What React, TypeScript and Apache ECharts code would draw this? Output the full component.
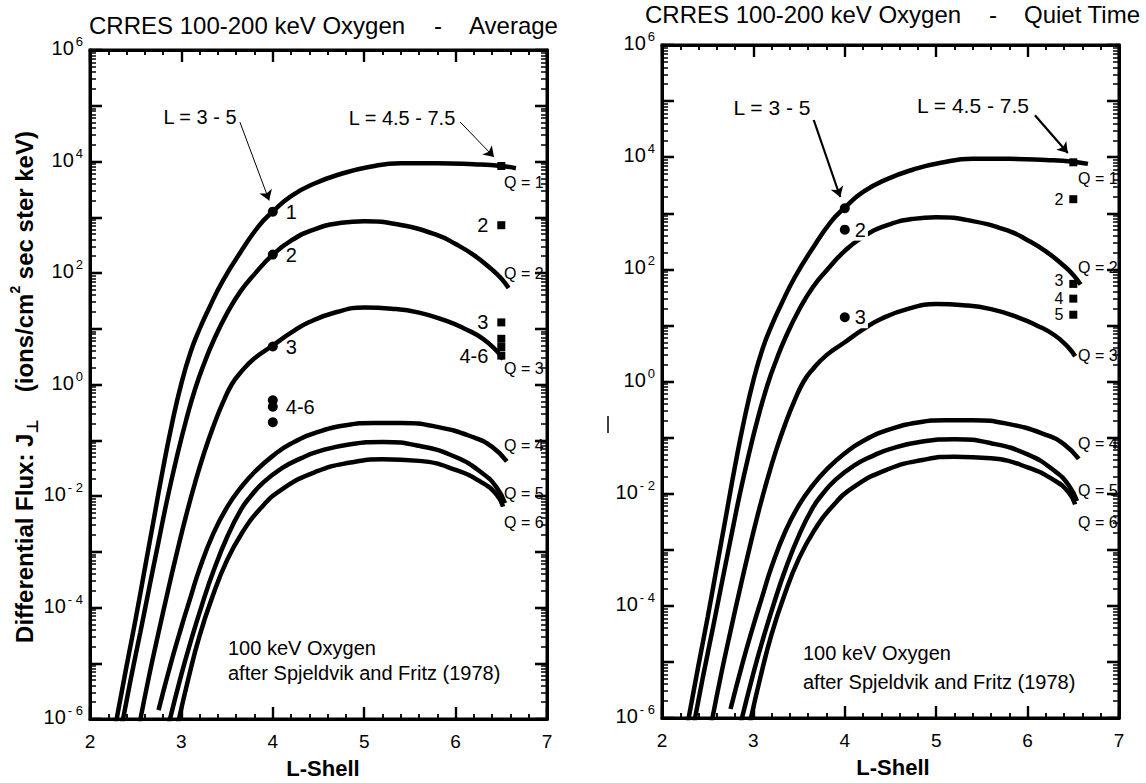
import { useEffect, useRef } from 'react';
import * as echarts from 'echarts';

const FONT = '"Liberation Sans", Arial, Helvetica, sans-serif';

// ---- Axes ----
const L_TICKS = [2, 3, 4, 5, 6, 7];
const DECADES = [-6, -5, -4, -3, -2, -1, 0, 1, 2, 3, 4, 5, 6];

// ---- Model curves after Spjeldvik and Fritz (1978): [L-shell, log10 flux] ----
const curveQ1 = [[2.28, -6.1], [2.4, -5.05], [2.5, -4.2], [2.6, -3.3], [2.7, -2.4], [2.8, -1.5], [2.9, -0.68], [3.0, 0.02], [3.1, 0.58], [3.2, 1.0], [3.3, 1.36], [3.45, 1.85], [3.65, 2.38], [3.85, 2.85], [4.0, 3.1], [4.2, 3.38], [4.45, 3.6], [4.75, 3.78], [5.05, 3.9], [5.4, 3.97], [5.8, 3.97], [6.2, 3.95], [6.5, 3.92], [6.66, 3.88]];
const curveQ2 = [[2.35, -6.1], [2.45, -5.25], [2.55, -4.45], [2.65, -3.63], [2.75, -2.82], [2.85, -2.02], [2.95, -1.3], [3.05, -0.65], [3.15, -0.08], [3.25, 0.38], [3.35, 0.78], [3.5, 1.28], [3.65, 1.68], [3.8, 1.98], [4.0, 2.33], [4.2, 2.58], [4.45, 2.78], [4.75, 2.9], [5.0, 2.93], [5.4, 2.86], [5.8, 2.68], [6.0, 2.52], [6.2, 2.32], [6.4, 2.06], [6.5, 1.9], [6.58, 1.73]];
const curveQ3 = [[2.54, -6.1], [2.65, -5.2], [2.75, -4.45], [2.85, -3.72], [2.95, -3.02], [3.05, -2.36], [3.15, -1.76], [3.25, -1.22], [3.35, -0.75], [3.45, -0.34], [3.55, 0.0], [3.65, 0.22], [3.8, 0.47], [4.0, 0.7], [4.2, 0.93], [4.4, 1.12], [4.7, 1.3], [5.0, 1.38], [5.3, 1.36], [5.6, 1.29], [5.9, 1.14], [6.1, 1.0], [6.3, 0.82], [6.45, 0.6], [6.52, 0.45]];
const curveQ4 = [[2.75, -5.84], [2.875, -5.06], [3.0, -4.35], [3.09, -3.87], [3.2, -3.3], [3.35, -2.67], [3.5, -2.2], [3.65, -1.85], [3.8, -1.57], [4.0, -1.28], [4.2, -1.06], [4.48, -0.86], [4.8, -0.73], [5.1, -0.69], [5.4, -0.69], [5.8, -0.76], [6.2, -0.95], [6.4, -1.12], [6.56, -1.38]];
const curveQ5 = [[2.86, -6.1], [3.0, -5.2], [3.1, -4.62], [3.22, -3.98], [3.35, -3.35], [3.51, -2.7], [3.65, -2.25], [3.75, -2.02], [3.9, -1.75], [4.1, -1.5], [4.3, -1.33], [4.5, -1.2], [4.85, -1.07], [5.2, -1.03], [5.6, -1.1], [6.0, -1.3], [6.3, -1.6], [6.45, -1.85], [6.54, -2.13]];
const curveQ6 = [[2.96, -6.1], [3.08, -5.25], [3.2, -4.5], [3.33, -3.85], [3.5, -3.15], [3.68, -2.62], [3.85, -2.25], [4.1, -1.88], [4.48, -1.56], [4.85, -1.4], [5.2, -1.34], [5.6, -1.37], [6.0, -1.53], [6.3, -1.77], [6.45, -1.98], [6.52, -2.19]];
const curves = [curveQ1, curveQ2, curveQ3, curveQ4, curveQ5, curveQ6];
const curveNames = ['Q = 1', 'Q = 2', 'Q = 3', 'Q = 4', 'Q = 5', 'Q = 6'];

// ---- CRRES measurements: [L-shell, flux] ----
const avgCircles = [[4, 1260], [4, 214], [4, 4.8], [4, 0.52], [4, 0.4], [4, 0.21]];
const avgCircleLabels = ['1', '2', '3', '', '4-6', ''];
const avgSquares = [[6.5, 8300], [6.5, 720], [6.5, 13], [6.5, 6.6], [6.5, 4.7], [6.5, 3.3]];
const avgSquareLabels = ['', '2', '3', '', '', '4-6'];
const quietCircles = [[4, 1230], [4, 510], [4, 14]];
const quietCircleLabels = ['', '2', '3'];
const quietSquares = [[6.5, 8100], [6.5, 1780], [6.5, 55], [6.5, 30], [6.5, 15.5]];
const quietSquareLabels = ['', '2', '3', '4', '5'];

// ---- Annotation arrows: [from, to] in [L-shell, flux] ----
const avgArrows = [[[3.64, 5.1e4], [3.96, 2.0e3]], [[6.05, 5.1e4], [6.42, 1.2e4]]];
const quietArrows = [[[3.66, 4.6e4], [3.95, 1.95e3]], [[6.08, 5.6e4], [6.44, 1.19e4]]];

// ---- Layout (pixels) ----
const panels = [
  {
    grid: { left: 90, top: 50, width: 457, height: 669 },
    circles: avgCircles, circleLabels: avgCircleLabels,
    squares: avgSquares, squareLabels: avgSquareLabels,
    arrows: avgArrows, arrowWidth: 1, labelBg: false, squareFont: 20,
  },
  {
    grid: { left: 662, top: 45, width: 457, height: 673 },
    circles: quietCircles, circleLabels: quietCircleLabels,
    squares: quietSquares, squareLabels: quietSquareLabels,
    arrows: quietArrows, arrowWidth: 2.2, labelBg: true, squareFont: 16,
  },
];

const minorLogTicks: number[] = [];
for (let e = -6; e < 6; e++) for (let m = 2; m <= 9; m++) minorLogTicks.push(m * Math.pow(10, e));
const stepLTicks: number[] = [];
for (let k = 0; k <= 25; k++) stepLTicks.push(2 + k * 0.2);

function txt(x: number, y: number, text: string, fontSize: number, extra: any = {}) {
  const align = extra.align || 'left';
  return {
    type: 'text', x, y, silent: true, rotation: extra.rotation || 0, z: 100,
    style: {
      text, fill: '#000', fontSize, fontFamily: FONT, fontWeight: extra.bold ? 'bold' : 'normal',
      align, textAlign: align, verticalAlign: 'middle', textVerticalAlign: 'middle',
      rich: extra.rich,
    },
  };
}

function seg(x1: number, y1: number, x2: number, y2: number, w: number) {
  return { type: 'line', silent: true, z: 100, shape: { x1, y1, x2, y2 }, style: { stroke: '#000', lineWidth: w } };
}

function baseGraphic(): any[] {
  const g: any[] = [
    txt(89, 25, 'CRRES 100-200 keV Oxygen', 24),
    txt(438, 25, '-', 24, { align: 'center' }),
    txt(469, 25, 'Average', 24),
    txt(645, 14, 'CRRES 100-200 keV Oxygen', 24),
    txt(993, 14, '-', 24, { align: 'center' }),
    txt(1024, 14, 'Quiet Time', 24),
    txt(24, 387, '{t|Differential Flux: J}{sub|⊥}{t|    (ions/cm}{sup|2}{t| sec ster keV)}', 24, {
      align: 'center', rotation: Math.PI / 2, bold: true,
      rich: {
        t: { fontSize: 24, fontWeight: 'bold', fontFamily: FONT, lineHeight: 32, color: '#000' },
        sub: { fontSize: 16, fontWeight: 'bold', fontFamily: 'DejaVu Sans', verticalAlign: 'bottom', lineHeight: 17, color: '#000' },
        sup: { fontSize: 14, fontWeight: 'bold', fontFamily: FONT, verticalAlign: 'top', lineHeight: 15, color: '#000' },
      },
    }),
    txt(323, 768, 'L-Shell', 22, { align: 'center', bold: true }),
    txt(893, 767, 'L-Shell', 22, { align: 'center', bold: true }),
    txt(200, 117, 'L = 3 - 5', 20, { align: 'center' }),
    txt(402, 118, 'L = 4.5 - 7.5', 20, { align: 'center' }),
    txt(772, 107, 'L = 3 - 5', 21, { align: 'center' }),
    txt(973, 105, 'L = 4.5 - 7.5', 21, { align: 'center' }),
    txt(228, 648, '100 keV Oxygen', 20),
    txt(228, 673, 'after Spjeldvik and Fritz (1978)', 20),
    txt(803, 653, '100 keV Oxygen', 20),
    txt(803, 682, 'after Spjeldvik and Fritz (1978)', 20),
    seg(608, 416, 608, 433, 1.5),
  ];
  const qLeftY = [182, 273, 368, 445, 493, 522];
  const qRightY = [178, 267, 355, 443, 490, 522];
  curveNames.forEach((n, k) => {
    g.push(txt(504, qLeftY[k], n, 16));
    g.push(txt(1078, qRightY[k], n, 16));
  });
  return g;
}

function buildOption() {
  const grids: any[] = [];
  const xAxes: any[] = [];
  const yAxes: any[] = [];
  const series: any[] = [];
  const mkLine = () => ({ show: true, onZero: false, lineStyle: { color: '#000', width: 3 } });
  const mkTick = () => ({ show: true, inside: true, length: 12, lineStyle: { color: '#000', width: 2.2 } });
  const mkMinor = () => ({ show: true, splitNumber: 5, length: 5, lineStyle: { color: '#000', width: 1.5 } });

  panels.forEach((p, i) => {
    grids.push({ ...p.grid, containLabel: false, show: false });
    const xb = xAxes.length;
    xAxes.push({
      gridIndex: i, type: 'value', min: L_TICKS[0], max: L_TICKS[L_TICKS.length - 1], interval: 1,
      position: 'bottom', axisLine: mkLine(), axisTick: mkTick(), minorTick: mkMinor(), splitLine: { show: false },
      axisLabel: { show: true, color: '#000', fontSize: 19, fontFamily: FONT, margin: 13 },
    });
    xAxes.push({
      gridIndex: i, type: 'value', min: L_TICKS[0], max: L_TICKS[L_TICKS.length - 1], interval: 1,
      position: 'top', axisLine: mkLine(), axisTick: mkTick(), minorTick: mkMinor(), splitLine: { show: false },
      axisLabel: { show: false },
    });

    const yb = yAxes.length;
    yAxes.push({ gridIndex: i, type: 'log', logBase: 10, min: 1e-6, max: 1e6, show: false });
    yAxes.push({
      gridIndex: i, type: 'value', min: DECADES[0], max: DECADES[DECADES.length - 1], interval: 1,
      position: 'left', axisLine: mkLine(), axisTick: mkTick(), splitLine: { show: false },
      axisLabel: {
        show: true, showMinLabel: true, showMaxLabel: true, margin: 7, color: '#000',
        formatter: (v: number) => (Math.round(v) % 2 === 0 ? `{b|10}{s|${v < 0 ? '- ' + (-v) : v}}` : ''),
        rich: {
          b: { fontSize: 20, lineHeight: 30, fontFamily: FONT, color: '#000', padding: [0, 0, 4, 0] },
          s: { fontSize: 13, lineHeight: 14, verticalAlign: 'top', fontFamily: FONT, color: '#000', padding: [0, 0, 0, 2] },
        },
      },
    });
    yAxes.push({
      gridIndex: i, type: 'value', min: DECADES[0], max: DECADES[DECADES.length - 1], interval: 1,
      position: 'right', axisLine: mkLine(), axisTick: mkTick(), splitLine: { show: false },
      axisLabel: { show: false },
    });

    // frame as a line series through the panel corners; ticks as its mark lines
    const dL = 5 / p.grid.width; // L per pixel
    const dLog = 12 / p.grid.height; // decades per pixel
    const tickItems: any[] = [];
    DECADES.forEach((d) => {
      const v = Math.pow(10, d);
      tickItems.push([{ coord: [2, v], lineStyle: { width: 2.4 } }, { coord: [2 + 12 * dL, v] }]);
      tickItems.push([{ coord: [7, v], lineStyle: { width: 2.4 } }, { coord: [7 - 12 * dL, v] }]);
    });
    minorLogTicks.forEach((v) => {
      tickItems.push([{ coord: [2, v], lineStyle: { width: 1.5 } }, { coord: [2 + 6 * dL, v] }]);
      tickItems.push([{ coord: [7, v], lineStyle: { width: 1.5 } }, { coord: [7 - 6 * dL, v] }]);
    });
    stepLTicks.forEach((L, k) => {
      const len = k % 5 === 0 ? 12 : 5;
      const w = k % 5 === 0 ? 2.2 : 1.5;
      tickItems.push([{ coord: [L, 1e-6], lineStyle: { width: w } }, { coord: [L, Math.pow(10, -6 + len * dLog)] }]);
      tickItems.push([{ coord: [L, 1e6], lineStyle: { width: w } }, { coord: [L, Math.pow(10, 6 - len * dLog)] }]);
    });
    series.push({
      type: 'line', xAxisIndex: xb, yAxisIndex: yb, silent: true, clip: false, z: 10,
      data: [[2, 1e-6], [7, 1e-6], [7, 1e6], [2, 1e6], [2, 1e-6]],
      showSymbol: false, symbol: 'none', lineStyle: { color: '#000', width: 3, cap: 'square', join: 'miter' },
      markLine: {
        silent: true, symbol: ['none', 'none'], precision: 6,
        lineStyle: { color: '#000', type: 'solid', width: 1.5 },
        label: { show: false }, emphasis: { disabled: true },
        data: tickItems,
      },
    });

    curves.forEach((c, k) => {
      const s: any = {
        type: 'line', name: curveNames[k], xAxisIndex: xb, yAxisIndex: yb, silent: true,
        data: c.map(([L, lg]) => [L, Math.pow(10, lg)]),
        showSymbol: false, symbol: 'none', smooth: 0.5, clip: true, z: 2,
        lineStyle: { color: '#000', width: 4.5 },
      };
      if (k === 0) {
        s.markLine = {
          silent: true, symbol: ['none', 'arrow'], symbolSize: 10,
          lineStyle: { color: '#000', width: p.arrowWidth, type: 'solid' },
          label: { show: false },
          data: p.arrows.map(([a, b]) => [{ coord: a }, { coord: b }]),
        };
      }
      series.push(s);
    });

    const labelStyle = {
      color: '#000', fontSize: 20, fontFamily: FONT,
      ...(p.labelBg ? { backgroundColor: '#fff', padding: [1, 2] } : {}),
    };
    series.push({
      type: 'scatter', xAxisIndex: xb, yAxisIndex: yb, silent: true, z: 5,
      symbol: 'circle', symbolSize: 10, itemStyle: { color: '#000', opacity: 1 },
      data: p.circles.map((v, k) => ({ value: v, label: { show: p.circleLabels[k] !== '' } })),
      label: {
        position: 'right', distance: p.labelBg ? 3 : 8, ...labelStyle,
        formatter: (q: any) => p.circleLabels[q.dataIndex],
      },
    });
    series.push({
      type: 'scatter', xAxisIndex: xb, yAxisIndex: yb, silent: true, z: 5,
      symbol: 'rect', symbolSize: 8, itemStyle: { color: '#000', opacity: 1 },
      data: p.squares.map((v, k) => ({
        value: v,
        label: { show: p.squareLabels[k] !== '', offset: p.labelBg && k === 2 ? [0, -3] : [0, 0] },
      })),
      label: {
        position: 'left', distance: p.labelBg ? 6 : 9, color: '#000', fontFamily: FONT,
        fontSize: p.squareFont, lineHeight: p.labelBg ? 14 : 22,
        formatter: (q: any) => p.squareLabels[q.dataIndex],
      },
    });
  });

  return {
    animation: false,
    backgroundColor: '#fff',
    textStyle: { fontFamily: FONT },
    grid: grids,
    xAxis: xAxes,
    yAxis: yAxes,
    series,
    graphic: { elements: baseGraphic() },
  };
}

export default function App() {
  const ref = useRef<HTMLDivElement>(null);
  useEffect(() => {
    if (!ref.current) return;
    const chart = echarts.init(ref.current, undefined, { renderer: 'svg' });
    chart.setOption(buildOption() as any);
    return () => chart.dispose();
  }, []);
  return (
    <div
      ref={ref}
      style={{ position: 'absolute', left: 0, top: 0, width: 1146, height: 783, background: '#fff' }}
    />
  );
}
